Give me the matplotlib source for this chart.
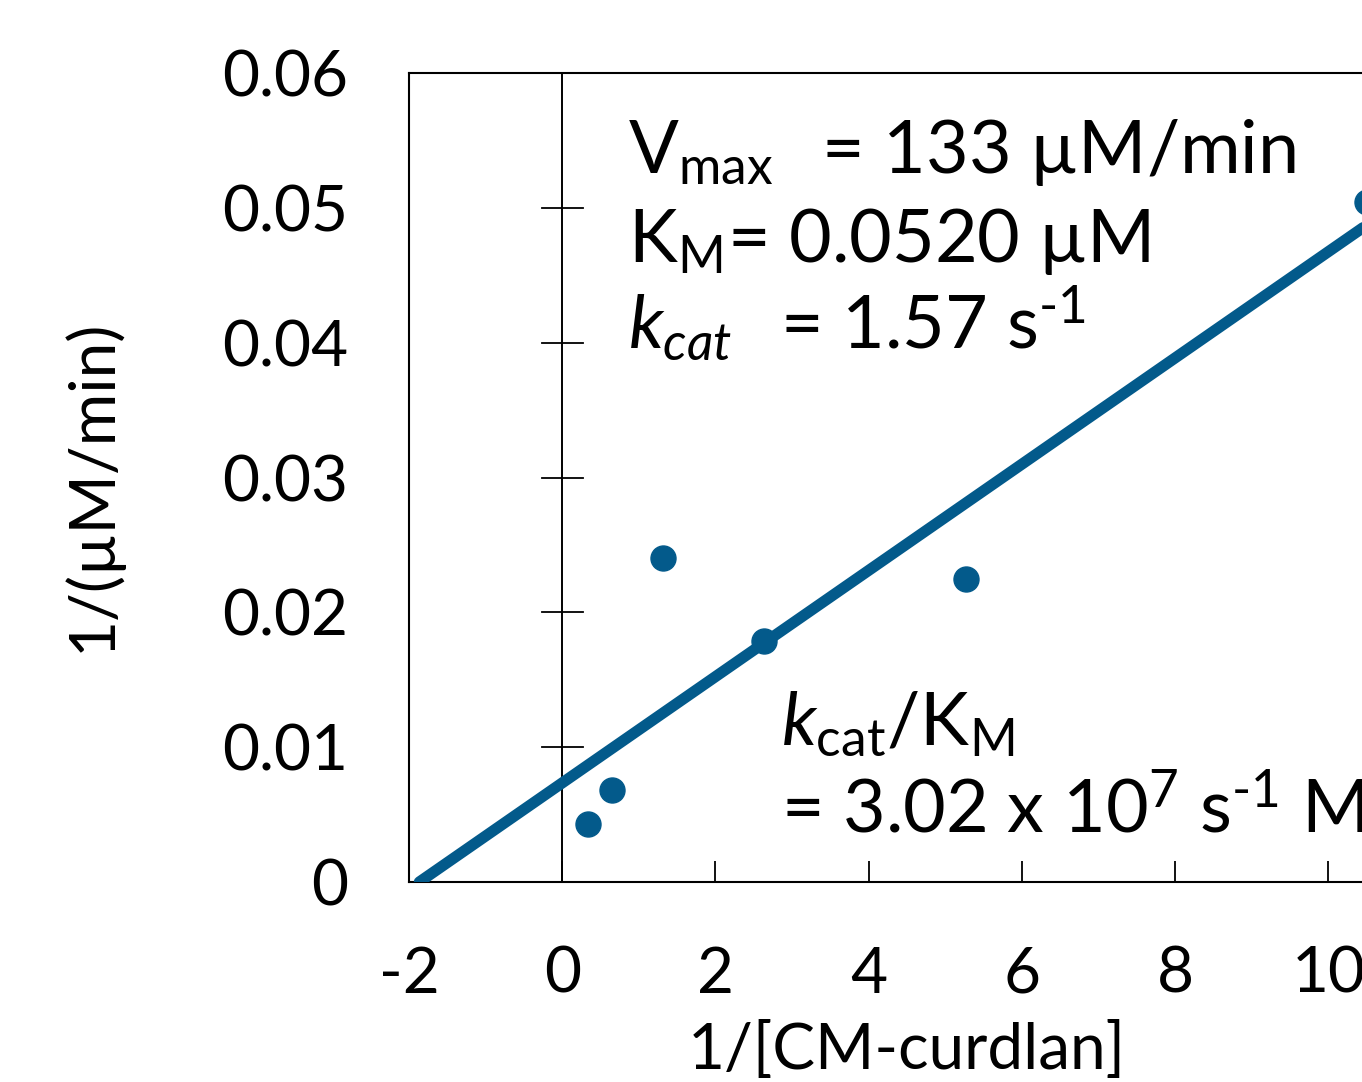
import matplotlib
matplotlib.use("Agg")
import matplotlib.pyplot as plt
import numpy as np

# ---- data ----
x_vals = [0.33, 0.65, 1.31, 2.63, 5.27, 10.5]
y_vals = [0.0043, 0.0068, 0.0240, 0.0179, 0.0225, 0.0504]
fit_slope = 0.00394
fit_intercept = 0.00735
x_ticks = [-2, 0, 2, 4, 6, 8, 10]
y_ticks = [0, 0.01, 0.02, 0.03, 0.04, 0.05, 0.06]
y_ticklabels = ["0", "0.01", "0.02", "0.03", "0.04", "0.05", "0.06"]

color = "#035A8B"

plt.rcParams['font.family'] = ['Lato', 'DejaVu Sans']
plt.rcParams['mathtext.fontset'] = 'custom'
plt.rcParams['mathtext.rm'] = 'Lato'
plt.rcParams['mathtext.it'] = 'Lato:italic'
plt.rcParams['mathtext.bf'] = 'Lato:bold'
plt.rcParams['axes.unicode_minus'] = False

fig = plt.figure(figsize=(13.62, 10.82), dpi=100)
W, H = 1362, 1082
left, top, bottom, right = 409, 73, 882, 1405
ax = fig.add_axes([left / W, 1 - bottom / H, (right - left) / W, (bottom - top) / H])

ax.set_xlim(-2, 11)
ax.set_ylim(0, 0.06)

for s in ax.spines.values():
    s.set_linewidth(1.5)
    s.set_color('black')

ax.set_xticks(x_ticks)
ax.set_xticklabels([str(t) for t in x_ticks])
ax.set_yticks(y_ticks)
ax.set_yticklabels(y_ticklabels)
ax.tick_params(axis='x', direction='in', length=15, width=1.3, pad=46, labelsize=46)
ax.tick_params(axis='y', length=0, pad=44, labelsize=46)

# vertical axis line at x=0 with cross ticks
ax.axvline(0, color='black', lw=1.4, zorder=1)
half = 0.27
for yt in y_ticks[1:-1]:
    ax.plot([-half, half], [yt, yt], color='black', lw=1.3, zorder=1)

# fit line
x0 = -fit_intercept / fit_slope
xl = np.array([x0, 11.5])
ax.plot(xl, fit_intercept + fit_slope * xl, color=color, lw=8, solid_capstyle='round', zorder=3)

# points
ax.plot(x_vals, y_vals, 'o', color=color, ms=18, zorder=4, clip_on=False)

ax.set_xlabel("1/[CM-curdlan]", fontsize=46)
ax.set_ylabel("1/(µM/min)", fontsize=46)
ax.yaxis.set_label_coords(-0.288, 0.49)
ax.xaxis.set_label_coords(0.5, -0.172)

fs = 53
ax.text(0.86, 0.0526, r"V$_{\mathrm{max}}\,$  = 133 µM/min", fontsize=fs, va='baseline', ha='left')
ax.text(0.86, 0.0460, r"K$_{\mathrm{M}}$= 0.0520 µM", fontsize=fs, va='baseline', ha='left')
ax.text(0.86, 0.0395, r"$k_{cat}\,$  = 1.57 s$^{\text{-}1}$", fontsize=fs, va='baseline', ha='left')
ax.text(2.85, 0.0102, r"$k_{\mathrm{cat}}$/K$_{\mathrm{M}}$", fontsize=fs, va='baseline', ha='left')
ax.text(2.85, 0.0037, r"= 3.02 x 10$^{7}$ s$^{\text{-}1}$ M$^{\text{-}1}$", fontsize=fs, va='baseline', ha='left')

fig.savefig("out.png", dpi=100)
